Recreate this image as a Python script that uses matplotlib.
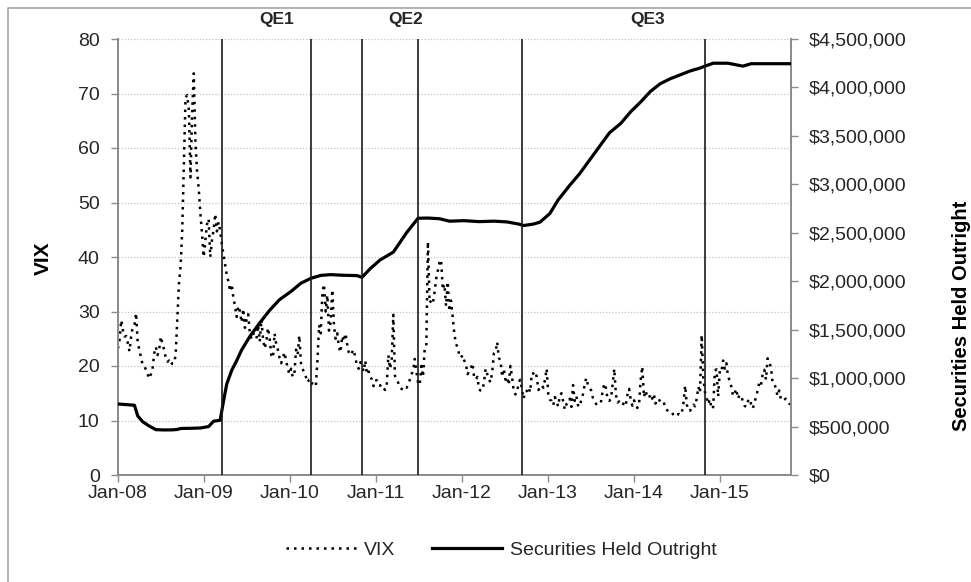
import pandas as pd
import matplotlib
matplotlib.use('Agg')
import matplotlib.pyplot as plt
import matplotlib.dates as mdates
from matplotlib.ticker import FuncFormatter, MultipleLocator
from matplotlib.lines import Line2D

plt.rcParams['font.family'] = ['Liberation Sans', 'DejaVu Sans']

# weekly VIX (wednesdays)
vix_2008 = [23.2, 24.8, 28.4, 26.6, 25.4,
            25.5, 24.2, 22.7, 25.4,
            27.2, 27.5, 29.7, 24.2,
            23.0, 21.5, 20.2, 20.0, 19.3,
            18.5, 17.7, 18.5, 19.5,
            22.3, 23.5, 22.0, 23.0,
            25.4, 24.0, 23.0, 21.5, 20.8,
            21.0, 20.2, 20.5, 20.5,
            22.0, 28.4, 35.2, 38.3,
            45.0, 57.5, 69.3, 69.7, 67.0,
            54.6, 66.5, 73.7, 60.9,
            55.7, 52.5, 48.0, 44.2, 40.0]
vix_2009 = [43.0, 46.0, 47.0, 40.0,
            43.0, 45.0, 47.9, 44.7,
            46.4, 44.8, 42.4, 40.5,
            38.6, 36.7, 35.5, 33.7, 35.0,
            32.5, 31.0, 29.0, 31.0,
            30.0, 28.0, 30.5, 27.0,
            28.5, 29.5, 26.0, 25.0, 26.0,
            25.5, 25.0, 27.5, 24.5,
            28.5, 25.0, 23.2, 24.5, 27.0,
            25.0, 22.0, 21.5, 26.0,
            24.0, 23.0, 21.5, 20.5,
            21.5, 22.5, 21.0, 19.5, 18.5]
vix_2010 = [19.5, 18.0, 18.5, 23.0,
            22.0, 25.6, 20.5, 19.5,
            18.7, 18.0, 17.0, 17.5, 17.6,
            16.6, 16.3, 16.3, 21.0,
            27.5, 26.0, 33.6, 35.0,
            30.0, 33.0, 26.5, 28.0, 34.0,
            27.5, 25.0, 26.0, 23.5,
            22.5, 25.5, 24.5, 26.0,
            24.0, 22.5, 22.0, 22.5, 23.0,
            21.5, 20.0, 19.5, 20.7,
            20.0, 19.0, 21.0, 18.5,
            19.0, 17.9, 17.6, 16.3, 17.3]
vix_2011 = [17.4, 16.5, 16.4, 16.6,
            16.0, 15.6, 16.4, 22.0,
            19.5, 21.0, 29.4, 18.2, 17.7,
            16.9, 16.0, 15.8, 15.6,
            16.1, 16.0, 16.5, 17.5,
            18.5, 19.0, 21.3, 19.0, 16.9,
            16.5, 20.0, 18.0, 23.0,
            23.5, 42.8, 31.6, 32.0, 31.5,
            33.5, 36.0, 37.5, 39.0,
            39.5, 34.0, 35.0, 31.0,
            35.5, 30.0, 32.0, 29.0, 26.0,
            24.0, 23.5, 22.0, 21.5]
vix_2012 = [22.0, 21.0, 20.5, 18.5,
            19.0, 19.5, 20.5, 18.0, 17.5,
            18.0, 15.7, 15.5, 15.5,
            17.0, 19.5, 18.5, 17.5,
            17.0, 19.0, 22.3, 22.5, 24.4,
            21.5, 21.0, 18.0, 19.5,
            17.5, 18.0, 16.5, 20.0,
            18.0, 15.5, 14.8, 15.0, 17.0,
            17.5, 15.8, 14.0, 15.4,
            15.4, 16.1, 15.2, 18.7, 18.6,
            19.0, 18.0, 15.6, 16.0,
            16.5, 16.0, 17.5, 19.5]
vix_2013 = [14.7, 13.8, 13.6, 12.8, 14.3,
            13.4, 12.6, 14.7, 15.0,
            13.5, 12.0, 13.0, 13.2,
            14.0, 12.5, 16.5, 13.6,
            14.5, 12.8, 12.5, 13.8, 14.8,
            16.5, 17.8, 16.6, 16.0,
            15.5, 14.2, 13.8, 13.0, 13.4,
            13.7, 13.5, 15.5, 16.8,
            15.9, 13.8, 13.6, 14.0,
            16.6, 19.5, 14.7, 13.3, 13.5,
            13.0, 12.8, 13.4, 12.9,
            14.7, 15.8, 13.8, 12.7]
vix_2014 = [13.7, 12.9, 12.3, 12.8, 17.4,
            19.9, 14.3, 15.5, 14.4,
            14.1, 14.8, 14.0, 14.9,
            13.1, 13.8, 14.0, 13.3, 13.4,
            13.4, 12.2, 11.9, 11.7,
            11.7, 11.6, 10.8, 11.0,
            11.0, 11.2, 11.0, 11.5, 13.3,
            16.4, 12.9, 11.8, 11.8,
            12.4, 12.9, 12.6, 14.0,
            16.2, 15.1, 25.7, 17.9, 15.2,
            14.2, 13.0, 13.9, 12.1,
            12.5, 19.1, 19.4, 14.4, 19.2]
vix_2015 = [19.0, 21.0, 19.5, 20.5,
            18.0, 17.4, 16.2, 14.5,
            15.0, 15.8, 14.0, 14.7,
            14.5, 13.5, 12.7, 12.5, 13.5,
            14.0, 13.0, 12.2, 13.2,
            14.4, 15.5, 17.0, 16.5,
            18.5, 19.3, 17.5, 21.4, 20.5,
            19.9, 17.0, 16.8, 15.9,
            14.5, 15.5, 14.0, 14.2, 13.8,
            14.0, 13.5, 13.1, 13.0]
vix = vix_2008 + vix_2009 + vix_2010 + vix_2011 + vix_2012 + vix_2013 + vix_2014 + vix_2015
vix_dates = pd.date_range('2008-01-02', periods=len(vix), freq='W-WED')

# securities held outright
sec_dates = pd.to_datetime([
    '2008-01-02', '2008-03-12', '2008-03-26', '2008-04-16', '2008-05-14', '2008-06-11',
    '2008-07-16', '2008-08-20', '2008-09-10', '2008-09-24', '2008-11-05', '2008-12-17',
    '2009-01-21', '2009-02-11', '2009-03-11', '2009-03-25', '2009-04-08', '2009-04-29',
    '2009-05-20', '2009-06-10', '2009-07-15', '2009-08-26', '2009-10-07', '2009-11-18',
    '2010-01-06', '2010-02-17', '2010-03-31', '2010-05-12', '2010-06-23', '2010-08-11',
    '2010-10-13', '2010-11-03', '2010-12-08', '2011-01-19', '2011-03-16', '2011-05-11',
    '2011-06-29', '2011-08-10', '2011-09-28', '2011-11-09', '2012-01-11', '2012-03-14',
    '2012-05-16', '2012-07-11', '2012-08-29', '2012-09-19', '2012-10-31', '2012-11-28',
    '2013-01-09', '2013-02-13', '2013-04-03', '2013-05-15', '2013-06-26', '2013-08-07',
    '2013-09-18', '2013-11-06', '2013-12-18', '2014-01-29', '2014-03-12', '2014-04-23',
    '2014-06-04', '2014-07-16', '2014-08-27', '2014-10-08', '2014-10-29', '2014-12-03',
    '2015-02-04', '2015-04-08', '2015-05-13', '2015-07-15', '2015-10-28'])
sec_values = [
    733000, 720000, 610000, 550000, 505000, 468000,
    465000, 466000, 470000, 480000, 482000, 485000,
    500000, 555000, 565000, 760000, 940000, 1080000,
    1180000, 1290000, 1430000, 1570000, 1700000, 1810000,
    1895000, 1980000, 2030000, 2060000, 2068000, 2062000,
    2058000, 2040000, 2130000, 2220000, 2300000, 2500000,
    2650000, 2652000, 2645000, 2620000, 2625000, 2615000,
    2620000, 2612000, 2590000, 2575000, 2590000, 2610000,
    2700000, 2840000, 2990000, 3110000, 3250000, 3390000,
    3530000, 3630000, 3750000, 3850000, 3960000, 4040000,
    4090000, 4130000, 4170000, 4200000, 4220000, 4250000,
    4250000, 4220000, 4245000, 4245000, 4245000]

qe_lines = pd.to_datetime(['2009-03-18', '2010-03-31', '2010-11-03',
                           '2011-06-30', '2012-09-13', '2014-10-29'])
qe_names = ['QE1', 'QE2', 'QE3']
qe_name_dates = pd.to_datetime(['2009-11-07', '2011-05-08', '2014-03-01'])

W, H = 971, 582
fig = plt.figure(figsize=(W / 100, H / 100), dpi=100)
ax = fig.add_axes([117.7 / W, 1 - 475 / H, (790.7 - 117.7) / W, (475 - 39) / H])
ax2 = ax.twinx()

gray = '#8c8c8c'
txt = '#262626'

ax.plot(vix_dates, vix, color='black', lw=1.8, linestyle=(0, (1, 2.0)), zorder=3)
ax2.plot(sec_dates, sec_values, color='black', lw=2.3, solid_joinstyle='round', zorder=3)
for d in qe_lines:
    ax2.axvline(d, color='#1a1a1a', lw=1.2, zorder=4)

ax.set_ylim(0, 80)
ax.yaxis.set_major_locator(MultipleLocator(10))
ax2.set_ylim(0, 4500000)
ax2.yaxis.set_major_locator(MultipleLocator(500000))
ax2.yaxis.set_major_formatter(FuncFormatter(lambda v, p: '${:,.0f}'.format(v)))

ax.set_xlim(pd.Timestamp('2008-01-01'), vix_dates[-1])
ax.xaxis.set_major_locator(mdates.YearLocator(month=1, day=1))
ax.xaxis.set_major_formatter(mdates.DateFormatter('%b-%y'))

ax.yaxis.grid(True, linestyle=(0, (1, 1.5)), color='#c4c4c4', lw=0.9)
ax.set_axisbelow(True)

for a in (ax, ax2):
    a.spines['top'].set_visible(False)
    for s in ('left', 'right', 'bottom'):
        a.spines[s].set_color(gray)
        a.spines[s].set_linewidth(1.3)
ax.tick_params(axis='y', direction='out', length=5, width=1, color=gray,
               labelsize=14, labelcolor=txt, pad=8)
ax.tick_params(axis='x', direction='out', length=5, width=1, color=gray,
               labelsize=14, labelcolor=txt, pad=2)
ax2.tick_params(axis='y', direction='out', length=5, width=1, color=gray,
                labelsize=14, labelcolor=txt, pad=8)

for name, d in zip(qe_names, qe_name_dates):
    ax.annotate(name, xy=(d, 1), xycoords=('data', 'axes fraction'),
                xytext=(0, 14), textcoords='offset points',
                ha='center', va='center', fontsize=12.5, fontweight='bold', color=txt)

fig.text(43 / W, 1 - 258 / H, 'VIX', rotation=90, ha='center', va='center',
         fontsize=15, fontweight='bold', color='black')
fig.text(961 / W, 1 - 316 / H, 'Securities Held Outright', rotation=90,
         ha='center', va='center', fontsize=14.5, fontweight='bold', color='black')

handles = [Line2D([], [], color='black', lw=1.8, linestyle=(0, (1, 2.0))),
           Line2D([], [], color='black', lw=2.3)]
fig.legend(handles, ['VIX', 'Securities Held Outright'], loc='center',
           bbox_to_anchor=(501 / W, 1 - 550 / H), ncol=2, frameon=False,
           fontsize=14, handlelength=3.6, handletextpad=0.4, columnspacing=1.9,
           labelcolor=txt)

# chart area border (top and left edges visible)
fig.add_artist(Line2D([8 / W, 8 / W, 1], [0, 1 - 8 / H, 1 - 8 / H],
                      transform=fig.transFigure, color='#a6a6a6', lw=1.2))

fig.savefig('out.png', dpi=100)
